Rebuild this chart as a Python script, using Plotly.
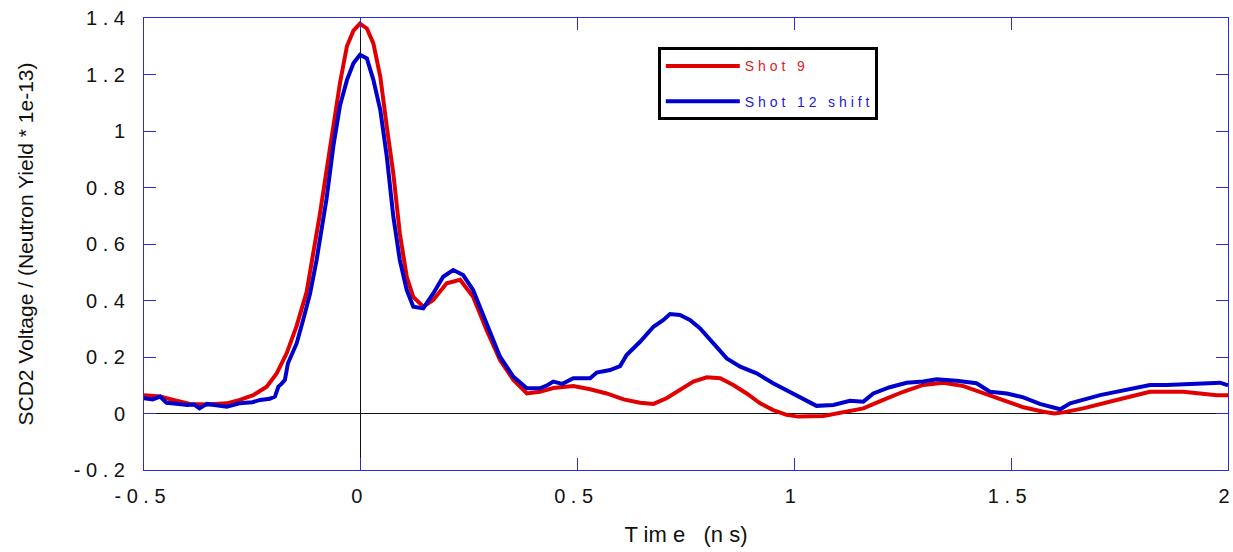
import plotly.graph_objects as go

# ---- data ----
t_shot9 = [-0.5, -0.463, -0.432, -0.394, -0.355, -0.309, -0.279, -0.248, -0.217, -0.194,
           -0.171, -0.148, -0.125, -0.110, -0.095, -0.079, -0.063, -0.048, -0.032, -0.017,
           -0.002, 0.014, 0.029, 0.045, 0.060, 0.075, 0.090, 0.106, 0.121, 0.144,
           0.167, 0.198, 0.229, 0.259, 0.290, 0.321, 0.352, 0.383, 0.413, 0.444,
           0.490, 0.529, 0.567, 0.606, 0.644, 0.675, 0.705, 0.736, 0.767, 0.798,
           0.829, 0.859, 0.890, 0.921, 0.951, 0.982, 1.009, 1.067, 1.113, 1.159,
           1.205, 1.251, 1.297, 1.343, 1.390, 1.436, 1.482, 1.528, 1.574, 1.600,
           1.620, 1.666, 1.743, 1.820, 1.897, 1.974, 2.0]
v_shot9 = [0.065, 0.060, 0.048, 0.034, 0.032, 0.036, 0.048, 0.065, 0.095, 0.142,
           0.213, 0.31, 0.43, 0.56, 0.70, 0.86, 1.02, 1.17, 1.30, 1.355,
           1.38, 1.363, 1.31, 1.192, 1.015, 0.85, 0.638, 0.484, 0.413, 0.378,
           0.402, 0.461, 0.473, 0.413, 0.296, 0.189, 0.119, 0.071, 0.077, 0.09,
           0.097, 0.086, 0.071, 0.050, 0.038, 0.034, 0.054, 0.083, 0.113, 0.128,
           0.125, 0.101, 0.071, 0.036, 0.012, -0.005, -0.011, -0.009, 0.003, 0.018,
           0.048, 0.077, 0.101, 0.109, 0.097, 0.071, 0.045, 0.022, 0.006, 0.0,
           0.004, 0.018, 0.048, 0.077, 0.077, 0.065, 0.065]

t_shot12 = [-0.5, -0.48, -0.463, -0.448, -0.42, -0.40, -0.385, -0.372, -0.355, -0.33,
            -0.309, -0.28, -0.25, -0.232, -0.21, -0.198, -0.19, -0.183, -0.175, -0.168,
            -0.148, -0.133, -0.117, -0.102, -0.090, -0.079, -0.063, -0.048, -0.032, -0.017,
            -0.002, 0.014, 0.029, 0.045, 0.060, 0.075, 0.090, 0.106, 0.121, 0.144,
            0.167, 0.190, 0.213, 0.236, 0.259, 0.290, 0.321, 0.352, 0.383, 0.413,
            0.430, 0.444, 0.465, 0.490, 0.529, 0.544, 0.575, 0.598, 0.613, 0.644,
            0.675, 0.698, 0.713, 0.736, 0.759, 0.782, 0.813, 0.844, 0.875, 0.913,
            0.951, 0.982, 1.009, 1.021, 1.051, 1.090, 1.128, 1.159, 1.182, 1.220,
            1.259, 1.297, 1.328, 1.374, 1.420, 1.451, 1.490, 1.528, 1.566, 1.613,
            1.636, 1.705, 1.782, 1.820, 1.859, 1.920, 1.982, 2.0]
v_shot12 = [0.054, 0.050, 0.060, 0.038, 0.034, 0.030, 0.032, 0.018, 0.034, 0.030,
            0.024, 0.036, 0.040, 0.048, 0.052, 0.060, 0.095, 0.105, 0.119, 0.178,
            0.248, 0.331, 0.425, 0.543, 0.65, 0.76, 0.95, 1.09, 1.18, 1.24,
            1.27, 1.257, 1.181, 1.074, 0.909, 0.697, 0.543, 0.437, 0.378, 0.372,
            0.425, 0.484, 0.508, 0.49, 0.437, 0.319, 0.201, 0.130, 0.089, 0.089,
            0.10, 0.113, 0.105, 0.125, 0.125, 0.145, 0.154, 0.168, 0.207, 0.254,
            0.307, 0.331, 0.352, 0.349, 0.331, 0.302, 0.248, 0.195, 0.166, 0.142,
            0.107, 0.083, 0.062, 0.054, 0.027, 0.030, 0.045, 0.042, 0.071, 0.093,
            0.109, 0.113, 0.121, 0.116, 0.107, 0.077, 0.071, 0.057, 0.034, 0.015,
            0.036, 0.065, 0.089, 0.101, 0.101, 0.104, 0.109, 0.10]

x_tickvals = [-0.5, 0, 0.5, 1, 1.5, 2]
x_ticktext = ["- 0 . 5", "0", "0 . 5", "1", "1 . 5", "2"]
y_tickvals = [-0.2, 0, 0.2, 0.4, 0.6, 0.8, 1.0, 1.2, 1.4]
y_ticktext = ["- 0 . 2", "0", "0 . 2", "0 . 4", "0 . 6", "0 . 8", "1", "1 . 2", "1 . 4"]

RED = "#e00000"
BLUE = "#0000cc"
AXIS = "#2a2ad8"
FONT = "Liberation Sans, Arial, sans-serif"

fig = go.Figure()
fig.add_trace(go.Scatter(x=t_shot9, y=v_shot9, mode="lines",
                         name="<span style='color:#e02020'>S h o t   9</span>",
                         line=dict(color=RED, width=4), legendgroup="a"))
fig.add_trace(go.Scatter(x=t_shot12, y=v_shot12, mode="lines",
                         name="<span style='color:#2020d0'>S h o t   1 2   s h i f t</span>",
                         line=dict(color=BLUE, width=4), legendgroup="b"))

axis_common = dict(showline=True, linecolor=AXIS, linewidth=1, mirror="allticks",
                   ticks="inside", ticklen=12, tickcolor=AXIS, tickwidth=1,
                   showgrid=False, zeroline=True, zerolinecolor="#111111", zerolinewidth=1,
                   automargin=False,
                   tickfont=dict(family=FONT, size=20, color="#111111"))

fig.update_layout(
    width=1233, height=552,
    margin=dict(l=144, r=5, t=18, b=82),
    paper_bgcolor="white", plot_bgcolor="white",
    font=dict(family=FONT, color="#111111"),
    showlegend=True,
    legend=dict(x=0.474, y=0.935, xanchor="left", yanchor="top",
                bordercolor="black", borderwidth=3, bgcolor="white",
                font=dict(family=FONT, size=14), traceorder="grouped",
                tracegroupgap=14, itemwidth=74),
    xaxis=dict(range=[-0.5, 2], tickvals=x_tickvals, ticktext=x_ticktext,
               ticklabelstandoff=8, ticklabelshift=-4,
               title=dict(text="T im e   (n s)", font=dict(family=FONT, size=22), standoff=20),
               **axis_common),
    yaxis=dict(range=[-0.2, 1.4], tickvals=y_tickvals, ticktext=y_ticktext,
               ticklabelstandoff=14,
               title=dict(text="SCD2 Voltage / (Neutron Yield * 1e-13)",
                          font=dict(family=FONT, size=21), standoff=34),
               **axis_common),
)

fig.write_html("out.html", config={"displayModeBar": False},
               post_script="document.body.style.margin='0px';")
